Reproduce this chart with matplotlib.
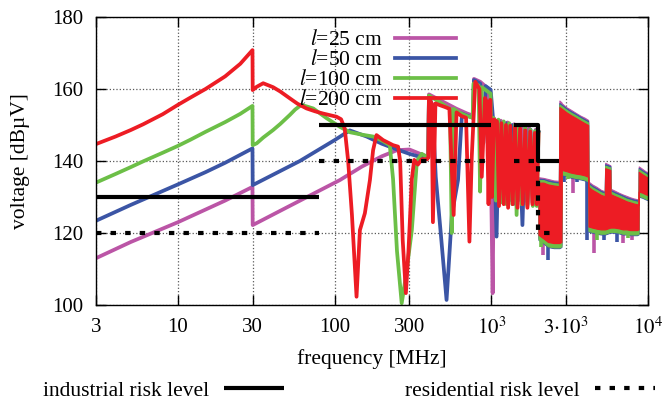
import matplotlib
matplotlib.use('Agg')
import matplotlib.pyplot as plt
import numpy as np

plt.rcParams.update({
    'font.family': 'serif',
    'font.serif': ['Liberation Serif', 'DejaVu Serif'],
    'mathtext.fontset': 'stix',
    'font.size': 15.5,
    'axes.linewidth': 1.0,
})

# ---- data (frequency in MHz, voltage in dBuV) ----
# line parts (3 MHz .. 2 GHz)
f_25 = [3, 5, 10, 20, 29.9, 30, 50, 108, 150, 200, 250, 300, 360, 390, 396,
        400, 500, 600, 700, 764, 775, 850, 960, 1000, 1020, 1045, 1100, 1150,
        1210, 1270, 1330, 1400, 1480, 1560, 1650, 1740, 1830, 1920, 2000]
v_25 = [113, 117.5, 123, 129, 132.8, 122.2, 127.2, 134.7, 138.5, 141.3, 143,
        143.2, 141.8, 141.3, 141.3, 158.5, 156.3, 154.5, 153.2, 152.6, 162.8,
        162, 160, 130, 103.3, 151.8, 131, 151.2, 130, 150.7, 130, 150.2, 129,
        149.7, 129, 149.2, 128.5, 148.7, 148.2]

f_50 = [3, 5, 10, 15, 20, 29.9, 30, 60, 100, 125, 160, 200, 250, 300, 360,
        390, 396, 400, 420, 442, 480, 518, 560, 613, 650, 700, 764, 775, 850,
        890, 920, 990, 1030, 1080, 1120, 1180, 1240, 1300, 1360, 1430, 1500,
        1580, 1650, 1700, 1780, 1850, 1920, 2000]
v_50 = [123.4, 127.8, 133.5, 136.9, 139.5, 143.5, 133.3, 140, 145.8, 148.5,
        146.8, 144.8, 143.2, 142, 141, 141, 141, 157.9, 155.5, 135.6, 118,
        101.4, 125, 134.7, 153.2, 152.6, 152, 162.5, 161.5, 145, 160.8, 159.8,
        150.8, 119, 151, 129, 150.5, 129, 150, 128, 149.6, 122.2, 149.2, 128,
        148.7, 128, 148.3, 148]

f_100 = [3, 4, 5, 6, 8, 10, 12, 15, 20, 25, 29.9, 30, 31.8, 35, 40.5, 45,
         51.8, 56, 61.4, 73, 88.8, 108, 125, 150, 176, 204, 225, 236, 250,
         268, 285, 311, 335, 360, 390, 396, 400, 470, 520, 545, 559, 575, 620,
         700, 760, 770, 830, 848, 870, 990, 1000, 1030, 1070, 1110, 1150,
         1200, 1250, 1300, 1360, 1417, 1450, 1500, 1560, 1645, 1700, 1772,
         1840, 1899, 1950, 2000]
v_100 = [134, 136.4, 138.3, 139.9, 142.3, 144.2, 145.9, 148.1, 150.8, 153.1,
         155.3, 144.4, 144.9, 146.5, 148.6, 150.3, 152.8, 154.3, 155.6, 154.6,
         151.9, 149.5, 148, 147.3, 146.8, 145.5, 144.4, 135, 115, 100.5, 108,
         120.8, 140, 142, 141, 141, 158.2, 156.3, 155, 154.5, 120, 154.5,
         153.5, 152.5, 152, 161.5, 161, 131.5, 160.5, 158.7, 140, 152, 129,
         151.5, 128.5, 151, 128, 150.5, 128, 150, 125, 149.7, 128, 149.2,
         127.5, 148.7, 127.5, 148.3, 127.5, 148]

f_200 = [3, 4, 5, 6, 8, 10, 12, 15, 20, 25, 29.9, 30, 31.8, 35, 40.5, 45,
         51.8, 58, 66.2, 75, 84.1, 102.8, 110, 116, 122, 129, 138, 145, 156,
         168, 176, 185, 204, 236, 254, 262, 272, 285, 296, 311, 322, 340, 360,
         390, 396, 400, 416, 424, 440, 470, 506, 540, 575, 600, 645, 690, 725,
         750, 790, 840, 869, 911, 934, 960, 985, 1010, 1040, 1087, 1120, 1160,
         1200, 1240, 1280, 1320, 1370, 1417, 1470, 1527, 1585, 1645, 1700,
         1772, 1830, 1899, 1950, 2000]
v_200 = [144.7, 146.8, 148.6, 150.2, 153, 155.6, 157.6, 160, 163.5, 167,
         170.8, 159.7, 160.6, 161.6, 160.5, 159.3, 157.4, 155.9, 154.6, 153.8,
         153.2, 152.3, 151.6, 149, 140, 125, 102.3, 120.8, 125.5, 134.7, 143,
         147.2, 145.8, 144.4, 144, 140, 118, 103.3, 115, 135, 140.3, 139,
         140.5, 140.5, 141, 157.5, 156, 123, 156, 155.5, 155, 154.5, 125,
         153.5, 152.5, 152, 117.6, 141, 162, 160, 135.6, 157.5, 156.5, 128,
         157, 130, 151.5, 151, 127.5, 150.5, 128, 150, 127, 149.8, 128, 149.5,
         127, 149, 128, 148.5, 127, 148.2, 128, 147.8, 128, 147.5]

# dense resonance region (2 .. 10 GHz): upper / lower envelopes
f_band = [2000, 2150, 2300, 2500, 2700, 2720, 2800, 2820, 3000, 3200, 3450,
          3700, 3950, 4150, 4170, 4400, 4700, 5000, 5300, 5330, 5750, 5770,
          6100, 6500, 6900, 7300, 7700, 8100, 8500, 8700, 8730, 9200, 9600,
          10000]
top_25 = [135.5, 135.3, 135, 134.6, 134.5, 156.8, 156.3, 156, 155, 154.3,
          153.4, 152.6, 152, 151.4, 134.3, 133.5, 132.8, 132, 131.6, 139.5,
          138.8, 132.3, 131.8, 131.2, 130.7, 130.3, 129.9, 129.6, 129.4, 129.2,
          138.5, 137.8, 137.2, 136.8]
bot_25 = [118.7, 117.7, 116.7, 116.4, 116.4, 116.4, 116.7, 136.7, 136.4, 136,
          135.7, 135.5, 135.2, 134.8, 121, 120.7, 120.4, 120.2, 120.2, 120.2,
          120.7, 120.7, 120.7, 120.5, 120.2, 120.2, 120, 120, 120, 120.2, 130.7,
          130.4, 130, 129.7]
top_50 = [135.1, 135, 134.6, 134.3, 134.1, 156.1, 155.7, 155.6, 154.7, 153.9,
          153.1, 152.3, 151.6, 151.1, 133.9, 133.1, 132.4, 131.7, 131.3, 139.1,
          138.6, 131.9, 131.4, 130.9, 130.4, 129.9, 129.6, 129.3, 129.1, 128.9,
          138.1, 137.4, 136.9, 136.4]
bot_50 = [118.1, 117.1, 116.1, 115.8, 115.8, 115.8, 116.1, 136.1, 135.8, 135.4,
          135.1, 134.9, 134.6, 134.2, 120.4, 120.1, 119.8, 119.6, 119.6, 119.6,
          120.1, 120.1, 120.1, 119.9, 119.6, 119.6, 119.4, 119.4, 119.4, 119.6,
          130.1, 129.8, 129.4, 129.1]
top_100 = [134.7, 134.7, 134.2, 133.9, 133.7, 155.7, 155.3, 155.2, 154.3, 153.5,
           152.7, 151.9, 151.2, 150.7, 133.5, 132.7, 132, 131.3, 130.9, 138.7,
           138.2, 131.5, 131, 130.5, 130, 129.5, 129.2, 128.9, 128.7, 128.5,
           137.7, 137, 136.5, 136]
bot_100 = [118.3, 117.3, 116.3, 116, 116, 116, 116.3, 136.3, 136, 135.6, 135.3,
           135.1, 134.8, 134.4, 120.6, 120.3, 120, 119.8, 119.8, 119.8, 120.3,
           120.3, 120.3, 120.1, 119.8, 119.8, 119.6, 119.6, 119.6, 119.8, 130.3,
           130, 129.6, 129.3]
top_200 = [134, 134, 133.5, 133.2, 133, 155, 154.6, 154.5, 153.6, 152.8, 152,
           151.2, 150.5, 150, 132.8, 132, 131.3, 130.6, 130.2, 138, 137.5,
           130.8, 130.3, 129.8, 129.3, 128.8, 128.5, 128.2, 128, 127.8, 137,
           136.3, 135.8, 135.3]
bot_200 = [119.5, 118.5, 117.5, 117.2, 117.2, 117.2, 117.5, 137.5, 137.2, 136.8,
           136.5, 136.3, 136, 135.6, 121.8, 121.5, 121.2, 121, 121, 121, 121.5,
           121.5, 121.5, 121.3, 121, 121, 120.8, 120.8, 120.8, 121, 131.5,
           131.2, 130.8, 130.5]

# narrow dips that stick out below the dense bands
dip_f_25 = [2150, 3300, 4550, 6900, 7950]
dip_v_25 = [113.9, 131, 114.4, 117.2, 118]
dip_f_50 = [2300, 2900, 3500, 4100, 5200, 6300]
dip_v_50 = [112.5, 134.3, 134.3, 118, 118, 117.5]
dip_f_100 = [2080, 3100, 4750, 7400]
dip_v_100 = [116.2, 135, 118, 118.5]

# risk levels (nan = gap)
ind_f = [3, 80, np.nan, 80, 1000, np.nan, 1400, 2000, 2000, 2700]
ind_v = [130, 130, np.nan, 150, 150, np.nan, 150, 150, 140, 140]
res_f = [3, 80, np.nan, 80, 1000, np.nan, 1400, 2000, 2000, 2600]
res_v = [120, 120, np.nan, 140, 140, np.nan, 140, 140, 120, 120]

labels = ['$l$=25 cm', '$l$=50 cm', '$l$=100 cm', '$l$=200 cm']
colors = ['#bb55a6', '#3b55a5', '#6cbf47', '#ed1c24']

series = [
    (f_25, v_25, top_25, bot_25, dip_f_25, dip_v_25),
    (f_50, v_50, top_50, bot_50, dip_f_50, dip_v_50),
    (f_100, v_100, top_100, bot_100, dip_f_100, dip_v_100),
    (f_200, v_200, top_200, bot_200, [], []),
]

fig = plt.figure(figsize=(6.63, 4.07), dpi=100)
ax = fig.add_axes([96 / 663, 1 - 305 / 407, (648 - 96) / 663, (305 - 17) / 407])
ax.set_xscale('log')

handles = []
for i, (f, v, top, bot, df, dv) in enumerate(series):
    z = 2 + 0.1 * i
    ln, = ax.plot(f, v, color=colors[i], lw=2.7, label=labels[i], zorder=z)
    handles.append(ln)
    ax.fill_between(f_band, bot, top, color=colors[i], lw=0.8, zorder=z)
    if df:
        ax.vlines(df, dv, [b + 4 for b in np.interp(df, f_band, bot)],
                  colors=colors[i], lw=2.6, zorder=z)

ind_line, = ax.plot(ind_f, ind_v, color='black', lw=3, zorder=3,
                    solid_capstyle='butt')
res_line, = ax.plot(res_f, res_v, color='black', lw=3, zorder=3,
                    linestyle=(0, (1.3, 2.2)))

ax.set_xlim(3, 10000)
ax.set_ylim(100, 180)
ax.set_xticks([3, 10, 30, 100, 300, 1000, 3000, 10000])
ax.set_xticklabels(['3', '10', '30', '100', '300', r'$10^3$',
                    r'$3{\cdot}10^3$', r'$10^4$'])
ax.minorticks_off()
ax.set_yticks([100, 120, 140, 160, 180])
ax.tick_params(direction='in', top=True, right=True, length=7, width=1, pad=9,
               labelsize=15)
ax.grid(True, linestyle=':', color='0.35', linewidth=0.9)
ax.set_axisbelow(True)

ax.set_xlabel('frequency [MHz]', labelpad=7)
ax.set_ylabel('voltage [dBµV]', labelpad=16)

ax.legend(handles=handles, loc='upper right',
          bbox_to_anchor=(456 / 663, 1 - 30 / 407), bbox_transform=fig.transFigure,
          markerfirst=False, frameon=False, handlelength=2.85, handletextpad=0.55,
          labelspacing=0.0, borderpad=0, borderaxespad=0)

fig.legend(handles=[ind_line, res_line],
           labels=['industrial risk level', 'residential risk level'],
           loc='lower left', bbox_to_anchor=(43 / 663, 6 / 407), ncol=2,
           markerfirst=False, frameon=False, handlelength=2.8,
           handletextpad=0.7, columnspacing=5.6, borderpad=0, borderaxespad=0)

fig.savefig('out.png', dpi=100)
